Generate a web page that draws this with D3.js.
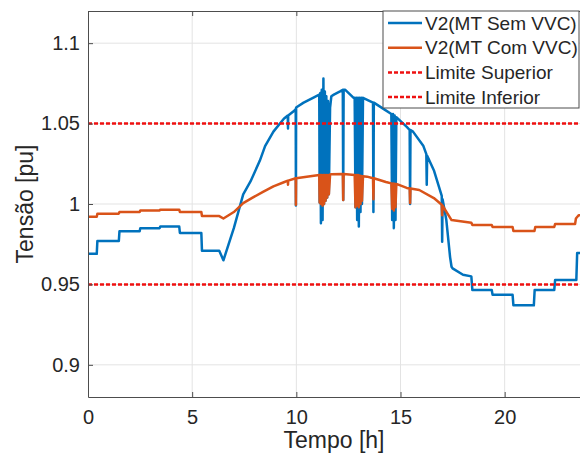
<!DOCTYPE html>
<html>
<head>
<meta charset="UTF-8">
<title>Tensão V2</title>
<script src="https://d3js.org/d3.v7.min.js"></script>
<style>
  body { margin: 0; background: #fff; }
  svg { font-family: "Liberation Sans", Arial, sans-serif; }
  .axis text { fill: #262626; font-size: 20px; }
  .axis path, .axis line { stroke: #4d4d4d; }
  .grid line { stroke: #e3e3e3; }
</style>
</head>
<body>
<svg></svg>
<script>
// tempo [h], tensão [pu]
const semVVC = [
  [0, 0.969], [0.42, 0.969], [0.45, 0.977], [1.48, 0.977], [1.51, 0.983], [2.48, 0.983], [2.51, 0.985],
  [3.44, 0.985], [3.47, 0.986], [4.38, 0.986], [4.41, 0.982], [5.44, 0.982], [5.47, 0.971], [6.3, 0.971],
  [6.5, 0.965], [7.0, 0.985], [7.45, 1.006], [7.8, 1.014], [8.25, 1.027], [8.5, 1.036], [8.9, 1.045],
  [9.4, 1.053], [9.59, 1.055], [9.60, 1.047], [9.61, 1.055], [9.9, 1.058], [9.97, 1.059], [9.98, 0.999],
  [9.99, 1.060], [10.35, 1.063], [10.8, 1.066], [11.10, 1.068], [11.12, 1.001], [11.15, 1.069],
  [11.18, 0.988], [11.22, 1.071], [11.26, 0.990], [11.30, 1.078], [11.33, 1.000], [11.37, 1.070],
  [11.40, 1.002], [11.44, 1.067], [11.48, 1.004], [11.52, 1.064], [11.56, 1.006], [11.62, 1.060],
  [11.68, 1.067], [11.8, 1.068], [12.1, 1.070], [12.23, 1.071], [12.25, 1.0025], [12.27, 1.071],
  [12.35, 1.071], [12.75, 1.066], [12.80, 1.066], [12.84, 0.998], [12.88, 1.066], [12.92, 0.990],
  [12.96, 1.066], [13.00, 0.986], [13.04, 1.066], [13.08, 0.995], [13.12, 1.066], [13.15, 1.000],
  [13.2, 1.066], [13.68, 1.063], [13.70, 0.995], [13.72, 1.063], [14.2, 1.059], [14.56, 1.056],
  [14.60, 0.990], [14.64, 1.056], [14.68, 0.985], [14.72, 1.055], [14.76, 0.990], [14.80, 1.054],
  [15.3, 1.048], [15.44, 1.046], [15.46, 1.000], [15.48, 1.046], [15.6, 1.045], [16.1, 1.036],
  [16.24, 1.031], [16.26, 1.012], [16.28, 1.030], [16.6, 1.021], [16.98, 1.005], [17.00, 0.9765],
  [17.02, 1.003], [17.2, 0.990], [17.38, 0.967], [17.45, 0.961], [17.5, 0.960], [18.0, 0.956],
  [18.4, 0.955], [18.45, 0.9465], [19.38, 0.9465], [19.42, 0.9435], [20.38, 0.9435], [20.42, 0.937],
  [21.4, 0.937], [21.44, 0.9465], [22.38, 0.9465], [22.42, 0.9527], [23.44, 0.9527], [23.48, 0.9695],
  [24, 0.9695]
];

const comVVC = [
  [0, 0.992], [0.42, 0.992], [0.45, 0.994], [1.48, 0.994], [1.51, 0.995], [2.48, 0.995], [2.51, 0.996],
  [3.44, 0.996], [3.47, 0.9965], [4.38, 0.9965], [4.41, 0.995], [5.44, 0.995], [5.47, 0.9925],
  [6.3, 0.9925], [6.5, 0.991], [7.0, 0.995], [7.45, 1.0005], [7.9, 1.004], [8.4, 1.0075], [8.9, 1.011],
  [9.4, 1.0135], [9.59, 1.0145], [9.60, 1.012], [9.61, 1.0145], [9.97, 1.016], [9.98, 0.9995],
  [9.99, 1.016], [10.5, 1.017], [11.10, 1.018], [11.12, 1.001], [11.15, 1.018], [11.18, 1.000],
  [11.22, 1.018], [11.26, 0.999], [11.30, 1.018], [11.33, 1.000], [11.37, 1.018], [11.40, 1.002],
  [11.44, 1.018], [11.48, 1.004], [11.52, 1.018], [11.56, 1.006], [11.62, 1.0183], [11.68, 1.0185],
  [12.23, 1.0186], [12.25, 1.0025], [12.27, 1.0186], [12.80, 1.018], [12.84, 0.998], [12.88, 1.018],
  [12.92, 0.999], [12.96, 1.018], [13.00, 0.998], [13.04, 1.0177], [13.08, 1.000], [13.12, 1.0174],
  [13.15, 1.002], [13.2, 1.0172], [13.4, 1.017], [13.68, 1.016], [13.70, 1.003], [13.72, 1.016],
  [14.3, 1.0137], [14.56, 1.0128], [14.60, 0.997], [14.64, 1.0127], [14.68, 0.996], [14.72, 1.0126],
  [14.76, 0.998], [14.80, 1.0125], [15.3, 1.010], [15.44, 1.0097], [15.46, 1.0006], [15.48, 1.0096],
  [15.9, 1.0087], [16.6, 1.0037], [16.98, 0.9995], [17.00, 0.993], [17.02, 0.999], [17.45, 0.990],
  [18.4, 0.9884], [18.45, 0.9869], [19.38, 0.9869], [19.42, 0.9857], [20.38, 0.9857], [20.42, 0.9832],
  [21.43, 0.9832], [21.47, 0.9857], [22.38, 0.9857], [22.42, 0.9875], [23.38, 0.9875], [23.42, 0.991],
  [23.55, 0.993], [24, 0.993]
];

const limites = [1.05, 0.95];
const xTicks = [0, 5, 10, 15, 20];
const yTicks = [0.9, 0.95, 1, 1.05, 1.1];
const nomes = ['V2(MT Sem VVC)', 'V2(MT Com VVC)', 'Limite Superior', 'Limite Inferior'];

const W = 580, H = 458;
const margin = { top: 11, left: 88 };
const plotW = 500, plotH = 386;

const svg = d3.select('svg').attr('width', W).attr('height', H);

const x = d3.scaleLinear().domain([0, 24]).range([0, plotW]);
const y = d3.scaleLinear().domain([0.88, 1.12]).range([plotH, 0]);

const g = svg.append('g').attr('transform', `translate(${margin.left},${margin.top})`);

g.append('defs').append('clipPath').attr('id', 'clip')
  .append('rect').attr('width', plotW).attr('height', plotH);

// grid
const grid = g.append('g').attr('class', 'grid');
grid.selectAll('.gx').data(xTicks.slice(1)).enter().append('line')
  .attr('x1', d => x(d)).attr('x2', d => x(d)).attr('y1', 0).attr('y2', plotH);
grid.selectAll('.gy').data(yTicks).enter().append('line')
  .attr('x1', 0).attr('x2', plotW).attr('y1', d => y(d)).attr('y2', d => y(d));

const colors = ['#0072bd', '#d95319'];
const line = d3.line().x(d => x(d[0])).y(d => y(d[1]));

const lines = g.append('g').attr('clip-path', 'url(#clip)');
[semVVC, comVVC].forEach((s, i) => {
  lines.append('path').datum(s)
    .attr('fill', 'none')
    .attr('stroke', colors[i])
    .attr('stroke-width', 2.5)
    .attr('stroke-linejoin', 'round')
    .attr('d', line);
});

lines.selectAll('.lim').data(limites).enter().append('line')
  .attr('x1', 0).attr('x2', plotW)
  .attr('y1', d => y(d)).attr('y2', d => y(d))
  .attr('stroke', '#ee1111')
  .attr('stroke-width', 2.5)
  .attr('stroke-dasharray', '4,2');

// axes
g.append('g').attr('class', 'axis')
  .attr('transform', `translate(0,${plotH})`)
  .call(d3.axisBottom(x).tickValues(xTicks).tickSizeInner(-5).tickSizeOuter(0).tickPadding(13));

g.append('g').attr('class', 'axis')
  .call(d3.axisTop(x).tickValues(xTicks).tickSizeInner(-5).tickSizeOuter(0).tickFormat(''));

g.append('g').attr('class', 'axis')
  .call(d3.axisLeft(y).tickValues(yTicks).tickSizeInner(-5).tickSizeOuter(0).tickPadding(8)
    .tickFormat(d => String(+d.toFixed(2))));

g.selectAll('.axis .domain').attr('stroke', '#4d4d4d');

svg.append('text')
  .attr('x', margin.left + 246).attr('y', 448)
  .attr('text-anchor', 'middle')
  .attr('font-size', '23px').attr('fill', '#262626')
  .text('Tempo [h]');

svg.append('text')
  .attr('transform', `translate(33,${margin.top + plotH / 2}) rotate(-90)`)
  .attr('text-anchor', 'middle')
  .attr('font-size', '23px').attr('fill', '#262626')
  .text('Tensão [pu]');

// legend
const leg = svg.append('g').attr('transform', 'translate(383,11)');
leg.append('rect').attr('width', 196).attr('height', 97)
  .attr('fill', '#fff').attr('stroke', '#4d4d4d').attr('stroke-width', 1);

const legItems = leg.selectAll('.item').data(nomes).enter().append('g')
  .attr('transform', (d, i) => `translate(0,${12 + i * 24.7})`);

legItems.append('line')
  .attr('x1', 5).attr('x2', 39).attr('y1', 0).attr('y2', 0)
  .attr('stroke', (d, i) => i < 2 ? colors[i] : '#ee1111')
  .attr('stroke-width', 2.5)
  .attr('stroke-dasharray', (d, i) => i < 2 ? null : '4,2');

legItems.append('text')
  .attr('x', 42).attr('y', 0).attr('dy', '0.35em')
  .attr('font-size', '19px').attr('fill', '#262626')
  .text(d => d);
</script>
</body>
</html>
